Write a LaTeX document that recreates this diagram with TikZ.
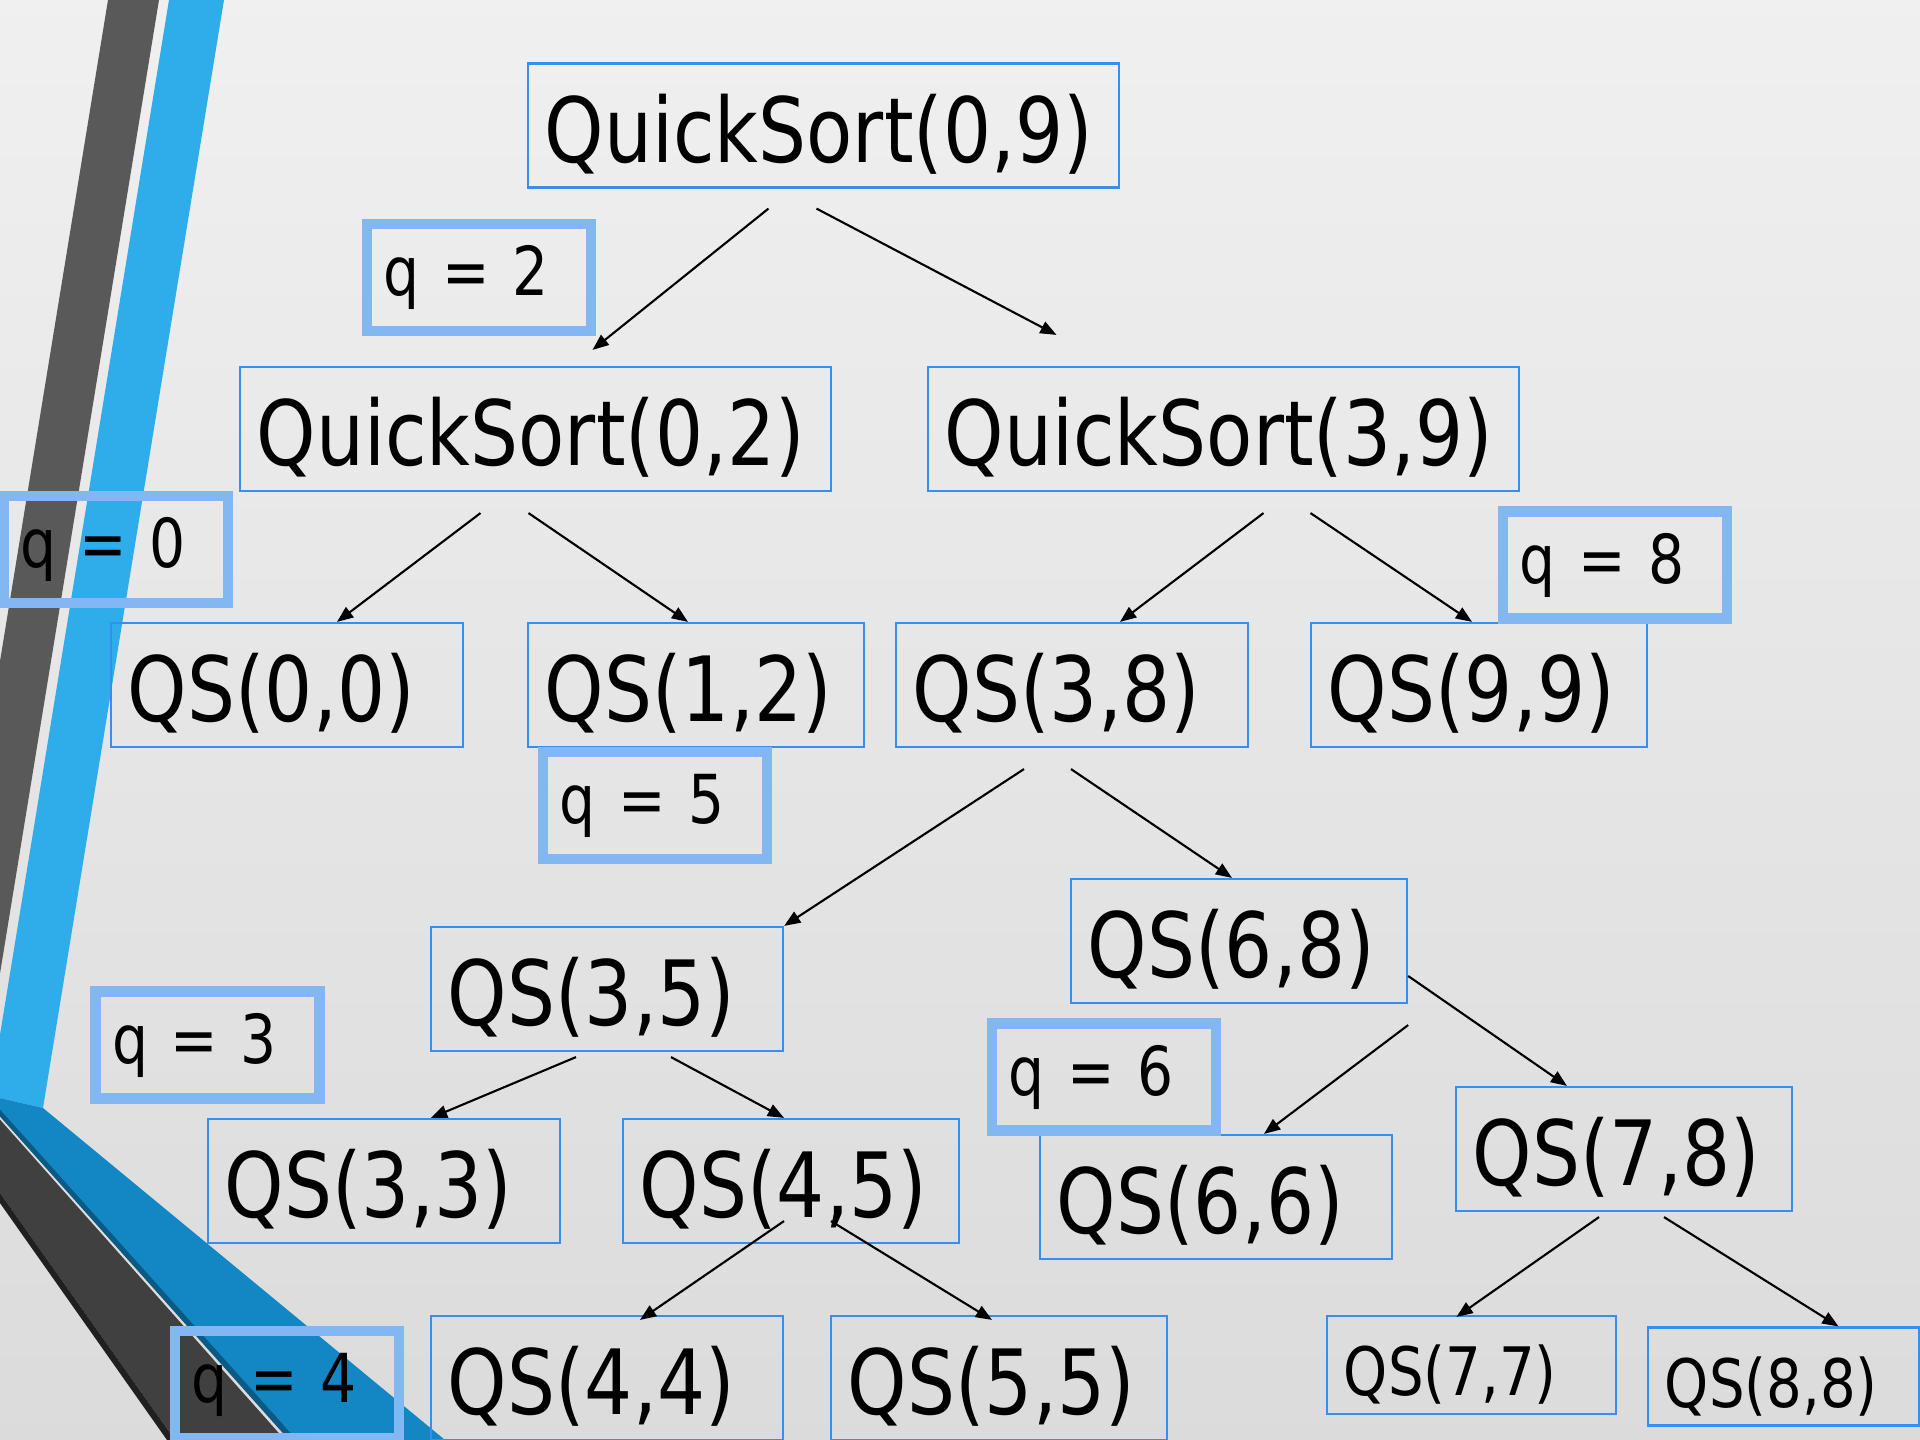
\documentclass[tikz,border=0pt]{standalone}
\usepackage{fontspec}
\setmainfont[FakeStretch=0.84]{DejaVu Sans}
\usepackage{tikz}
\usetikzlibrary{arrows.meta,calc,positioning}
\usepackage{xcolor}
\definecolor{qsblue}{RGB}{58,141,232}
\definecolor{qlight}{RGB}{131,183,243}
\definecolor{barblue}{RGB}{47,172,234}
\definecolor{bardeep}{RGB}{19,135,195}
\definecolor{bardeepedge}{RGB}{11,90,133}
\definecolor{bargray}{RGB}{89,89,89}
\definecolor{bardark}{RGB}{64,64,64}
\definecolor{bardarkedge}{RGB}{32,32,32}
\tikzstyle{arrow} = [line width=0.6pt,-{Triangle[length=4.6pt,width=3.6pt]}]
\tikzstyle{bigbox} = [rectangle, draw=qsblue, line width=0.6pt, text width=5.57cm, minimum height=1.24cm, inner xsep=0.17cm, text height=21pt, text depth=0pt, align=left, font=\fontsize{25.6}{30}\selectfont]
\tikzstyle{qsbox} = [bigbox, text width=3.18cm]
\tikzstyle{qsnarrow} = [bigbox, text width=3.02cm]
\tikzstyle{qssmall} = [bigbox, minimum height=0.98cm, text height=17.4pt, font=\fontsize{19}{23}\selectfont]
\tikzstyle{qbox} = [rectangle, draw=qlight, line width=2.9pt, text width=1.9cm, minimum height=1.07cm, inner xsep=0.17cm, align=left, font=\fontsize{19.2}{23}\selectfont]

\begin{document}
\begin{tikzpicture}[x=0.01cm, y=-0.01cm]
\useasboundingbox (0,0) rectangle (1920,1440);
\shade[top color=black!6, middle color=black!7.5, bottom color=black!14] (0,0) rectangle (1920,1440);

% Side bars
\begin{scope}
\clip (0,0) rectangle (1920,1440);
\fill[bargray] (108,0) -- (159,0) -- (-37,1200) -- (-88,1200) -- cycle;
\fill[barblue] (169,0) -- (224,0) -- (43,1108) -- (-10,1096) -- cycle;
\fill[bardeep] (-5,1097) -- (43,1108) -- (445,1440) -- (297,1440) -- (-5,1108) -- cycle;
\fill[bardeepedge] (-5,1104) -- (297,1440) -- (289,1440) -- (-5,1111) -- cycle;
\fill[bardark] (-5,1114) -- (285,1440) -- (175,1440) -- (-5,1186) -- cycle;
\fill[bardarkedge] (-5,1186) -- (175,1440) -- (167,1440) -- (-5,1196) -- cycle;
\end{scope}

% Calls
\node[bigbox] (top09) at (823.5,125.5) {QuickSort(0,9)};
\node[bigbox] (l02) at (535.5,429) {QuickSort(0,2)};
\node[bigbox] (r39) at (1223.5,429) {QuickSort(3,9)};

\node[qsbox] (qs00) at (287,685) {QS(0,0)};
\node[qsnarrow] (qs12) at (696,685) {QS(1,2)};
\node[qsbox] (qs38) at (1072,685) {QS(3,8)};
\node[qsnarrow] (qs99) at (1479,685) {QS(9,9)};

\node[qsnarrow] (qs68) at (1239,941) {QS(6,8)};
\node[qsbox] (qs35) at (607,989) {QS(3,5)};
\node[qsnarrow] (qs78) at (1624,1149) {QS(7,8)};

\node[qsbox] (qs33) at (384,1181) {QS(3,3)};
\node[qsnarrow] (qs45) at (791,1181) {QS(4,5)};
\node[qsbox] (qs66) at (1216,1197) {QS(6,6)};

\node[qsbox] (qs44) at (607,1378) {QS(4,4)};
\node[qsnarrow] (qs55) at (999,1378) {QS(5,5)};
\node[qssmall, text width=2.55cm] (qs77) at (1471.5,1365) {QS(7,7)};
\node[qssmall, text width=2.37cm] (qs88) at (1783.5,1376.5) {QS(8,8)};

% Pivots
\node[qbox] (q2) at (479,277.5) {q = 2};
\node[qbox] (q0) at (116,549.5) {q = 0};
\node[qbox] (q8) at (1615,565) {q = 8};
\node[qbox] (q5) at (655,805.5) {q = 5};
\node[qbox] (q3) at (207.5,1045) {q = 3};
\node[qbox] (q6) at (1104,1077) {q = 6};
\node[qbox] (q4) at (287,1384.5) {q = 4};

% Recursion
\draw[arrow] ($(top09.south)+(-55,20)$) -- ($(l02.north)+(57,-16)$);
\draw[arrow] ($(top09.south)+(-7,20)$) -- ($(r39.north)+(-167,-31)$);
\draw[arrow] ($(l02.south)+(-55,21)$) -- ($(qs00.north)+(50,0)$);
\draw[arrow] ($(l02.south)+(-7,21)$) -- ($(qs12.north)+(-8,0)$);
\draw[arrow] ($(r39.south)+(40,21)$) -- ($(qs38.north)+(48,0)$);
\draw[arrow] ($(r39.south)+(87,21)$) -- ($(qs99.north)+(-7,0)$);
\draw[arrow] ($(qs38.south)+(-48,21)$) -- (qs35.north east);
\draw[arrow] ($(qs38.south)+(-1,21)$) -- ($(qs68.north)+(-7,0)$);
\draw[arrow] ($(qs35.south)+(-31,5)$) -- ($(qs33.north)+(47,0)$);
\draw[arrow] ($(qs35.south)+(64,5)$) -- ($(qs45.north)+(-7,0)$);
\draw[arrow] ($(qs68.south east)+(0,21)$) -- ($(qs66.north)+(48,0)$);
\draw[arrow] ($(qs68.east)+(0,35)$) -- ($(qs78.north)+(-57,0)$);
\draw[arrow] ($(qs45.south)+(-7,-23)$) -- ($(qs44.north)+(33,5)$);
\draw[arrow] ($(qs45.south)+(40,-23)$) -- ($(qs55.north)+(-7,5)$);
\draw[arrow] ($(qs78.south)+(-25,5)$) -- ($(qs77.north)+(-15,2)$);
\draw[arrow] ($(qs78.south)+(40,5)$) -- ($(qs88.north)+(55,0)$);
\end{tikzpicture}
\end{document}
